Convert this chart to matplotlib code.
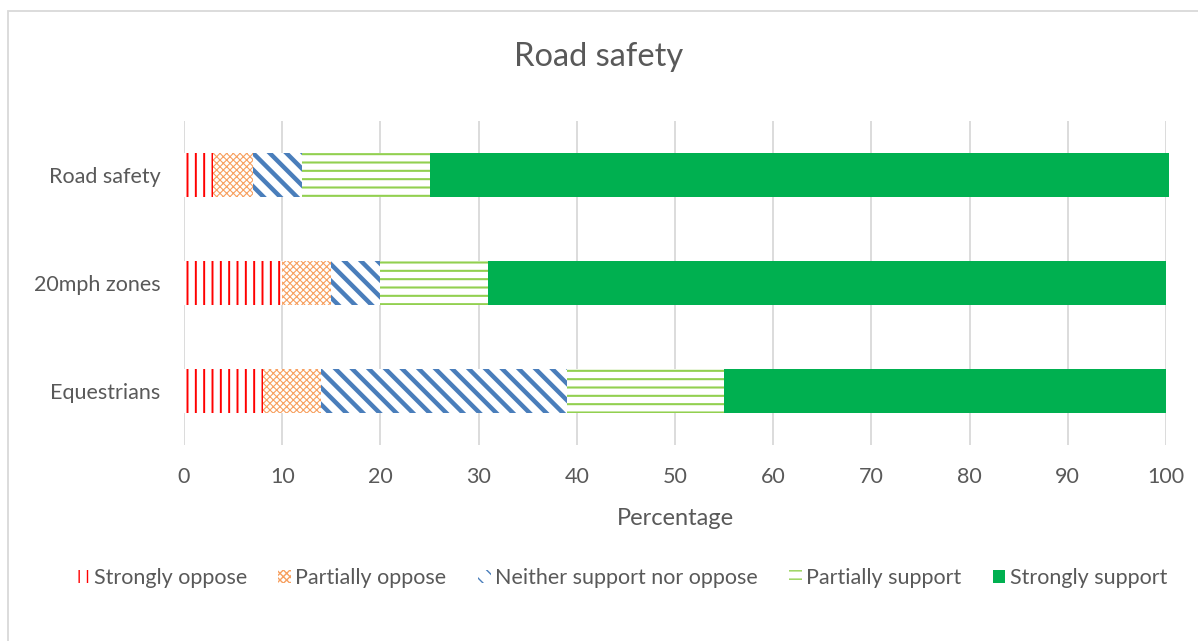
import matplotlib
matplotlib.use("Agg")
import matplotlib.pyplot as plt
from matplotlib.patches import Rectangle

categories = ["Equestrians", "20mph zones", "Road safety"]
series_names = ["Strongly oppose", "Partially oppose", "Neither support nor oppose",
                "Partially support", "Strongly support"]
strongly_oppose = [8, 10, 3]
partially_oppose = [6, 5, 4]
neither = [25, 5, 5]
partially_support = [16, 11, 13]
strongly_support = [45, 69, 75.3]
x_ticks = [0, 10, 20, 30, 40, 50, 60, 70, 80, 90, 100]

values = [strongly_oppose, partially_oppose, neither, partially_support, strongly_support]
colors = ["#FF0000", "#F7A060", "#4A7EBB", "#92D050", "#00B050"]
hatches = ["||", "xxxxx", "\\\\", "--", None]
hatch_lw = [1.4, 0.8, 3.2, 1.5, 1.0]

plt.rcParams['font.family'] = ['Lato', 'DejaVu Sans']
text_color = "#595959"

fig = plt.figure(figsize=(11.98, 6.41), dpi=100)
ax = fig.add_axes([184/1198, 1 - 445/641, (1166-184)/1198, (445-121)/641])

ypos = list(range(len(categories)))
left = [0.0] * len(categories)
handles = []
for vals, col, h, lw, name in zip(values, colors, hatches, hatch_lw, series_names):
    with plt.rc_context({'hatch.linewidth': lw}):
        if h is None:
            bars = ax.barh(ypos, vals, left=left, height=0.4, color=col, edgecolor=col,
                           linewidth=0, label=name, zorder=3)
        else:
            bars = ax.barh(ypos, vals, left=left, height=0.4, color="white", edgecolor=col,
                           hatch=h, linewidth=0, label=name, zorder=3)
    for b in bars:
        b.set_clip_on(False)
    handles.append(bars)
    left = [l + v for l, v in zip(left, vals)]

ax.set_xlim(0, 100)
ax.set_ylim(-0.5, len(categories) - 0.5)
ax.set_xticks(x_ticks)
ax.set_yticks(ypos)
ax.set_yticklabels(categories)
ax.tick_params(axis='both', length=0, labelsize=15.5, labelcolor=text_color)
ax.tick_params(axis='x', pad=16)
ax.tick_params(axis='y', pad=17)
ax.xaxis.grid(True, color="#D9D9D9", linewidth=1.3, zorder=0)
ax.set_axisbelow(True)
for s in ax.spines.values():
    s.set_visible(False)
ax.set_xlabel("Percentage", fontsize=17, color=text_color, labelpad=15)

fig.text(0.5, 1 - 57/641, "Road safety", ha='center', va='center', fontsize=23.5, color=text_color)

leg = fig.legend(handles=handles, labels=series_names, loc='center', bbox_to_anchor=(0.519, 1 - 578/641),
                 ncol=5, frameon=False, fontsize=15.5, handlelength=0.6, handleheight=0.6,
                 handletextpad=0.2, columnspacing=1.45, labelcolor=text_color)

fig.patches.append(Rectangle((8/1198, -0.1), 1.2, 1 - 11/641 + 0.1, transform=fig.transFigure,
                             fill=False, edgecolor="#D9D9D9", linewidth=1.3))

fig.savefig("out.png", dpi=100)
